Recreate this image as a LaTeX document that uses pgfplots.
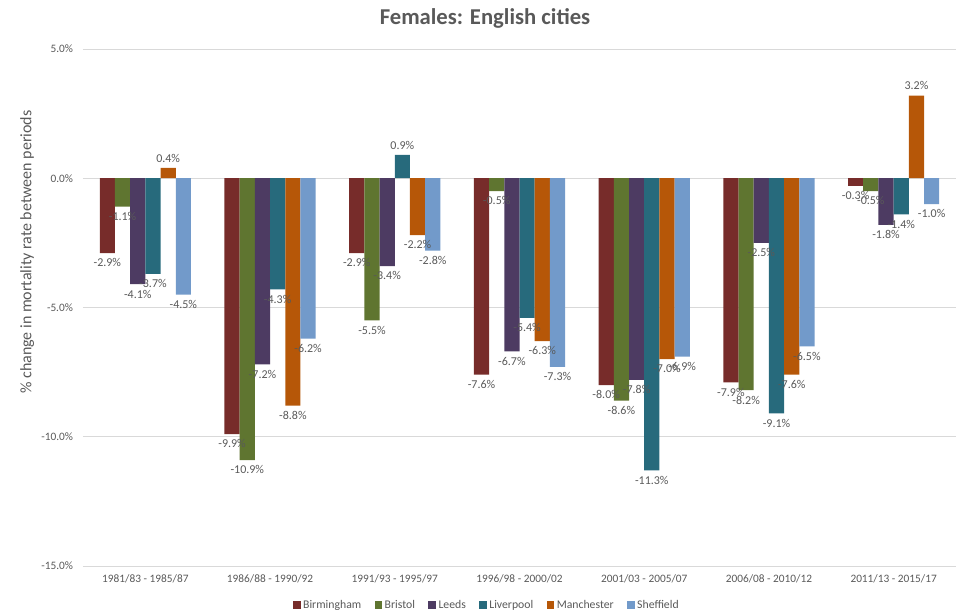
\documentclass[border=0pt]{standalone}
\usepackage{fontspec}
\setmainfont{Carlito}
\usepackage{pgfplots}
\pgfplotsset{compat=1.18}
\definecolor{cBir}{HTML}{772C2A}
\definecolor{cBri}{HTML}{5F7530}
\definecolor{cLee}{HTML}{4D3B62}
\definecolor{cLiv}{HTML}{276A7C}
\definecolor{cMan}{HTML}{B65708}
\definecolor{cShe}{HTML}{729ACA}
\definecolor{txt}{HTML}{595959}
\definecolor{grd}{HTML}{D9D9D9}
\begin{document}
\begin{tikzpicture}
\path[use as bounding box] (0pt,0pt) rectangle (723pt,462pt);
\begin{axis}[
  at={(62.25pt,37.5pt)}, anchor=south west,
  scale only axis, width=654.75pt, height=387.75pt,
  ybar=0pt, bar width=11.4pt,
  xmin=-0.5, xmax=6.5, ymin=-15, ymax=5,
  xtick={0,...,6},
  xticklabels={1981/83 - 1985/87,1986/88 - 1990/92,1991/93 - 1995/97,1996/98 - 2000/02,2001/03 - 2005/07,2006/08 - 2010/12,2011/13 - 2015/17},
  ytick={-15,-10,-5,0,5},
  yticklabel={\pgfmathprintnumber[fixed,fixed zerofill,precision=1]{\tick}\%},
  /pgf/number format/assume math mode=true,
  ymajorgrids, grid style={draw=grd, line width=0.6pt},
  axis line style={draw=none},
  major tick length=0pt,
  ticklabel style={font=\fontsize{8.5}{10}\selectfont, text=txt},
  xticklabel style={yshift=-3pt},
  yticklabel style={xshift=-4pt},
  ylabel={\% change in mortality rate between periods},
  ylabel style={at={(axis description cs:-0.064,0.607)}, anchor=center, font=\fontsize{12}{14}\selectfont, text=txt},
  title={Females: English cities},
  title style={at={(axis description cs:0.4605,1.043)}, anchor=center, font=\bfseries\fontsize{17}{20}\selectfont, text=txt},
  nodes near coords={\pgfmathprintnumber[fixed,fixed zerofill,precision=1]{\pgfplotspointmeta}\%},
  every node near coord/.append style={font=\fontsize{9}{10}\selectfont, text=txt, inner sep=4pt},
  legend style={at={(axis description cs:0.463,-0.0754)}, anchor=center, draw=none, legend columns=-1, font=\fontsize{8.8}{10}\selectfont, text=txt, /tikz/every even column/.append style={column sep=8pt}},
  legend image code/.code={\fill[#1] (0pt,-2.8pt) rectangle (5.6pt,2.8pt);},
]
\addplot[fill=cBir, draw=none] coordinates {(0,-2.9)(1,-9.9)(2,-2.9)(3,-7.6)(4,-8.0)(5,-7.9)(6,-0.3)};
\addplot[fill=cBri, draw=none] coordinates {(0,-1.1)(1,-10.9)(2,-5.5)(3,-0.5)(4,-8.6)(5,-8.2)(6,-0.5)};
\addplot[fill=cLee, draw=none] coordinates {(0,-4.1)(1,-7.2)(2,-3.4)(3,-6.7)(4,-7.8)(5,-2.5)(6,-1.8)};
\addplot[fill=cLiv, draw=none] coordinates {(0,-3.7)(1,-4.3)(2,0.9)(3,-5.4)(4,-11.3)(5,-9.1)(6,-1.4)};
\addplot[fill=cMan, draw=none] coordinates {(0,0.4)(1,-8.8)(2,-2.2)(3,-6.3)(4,-7.0)(5,-7.6)(6,3.2)};
\addplot[fill=cShe, draw=none] coordinates {(0,-4.5)(1,-6.2)(2,-2.8)(3,-7.3)(4,-6.9)(5,-6.5)(6,-1.0)};
\legend{Birmingham,Bristol,Leeds,Liverpool,Manchester,Sheffield}
\end{axis}
\end{tikzpicture}
\end{document}
